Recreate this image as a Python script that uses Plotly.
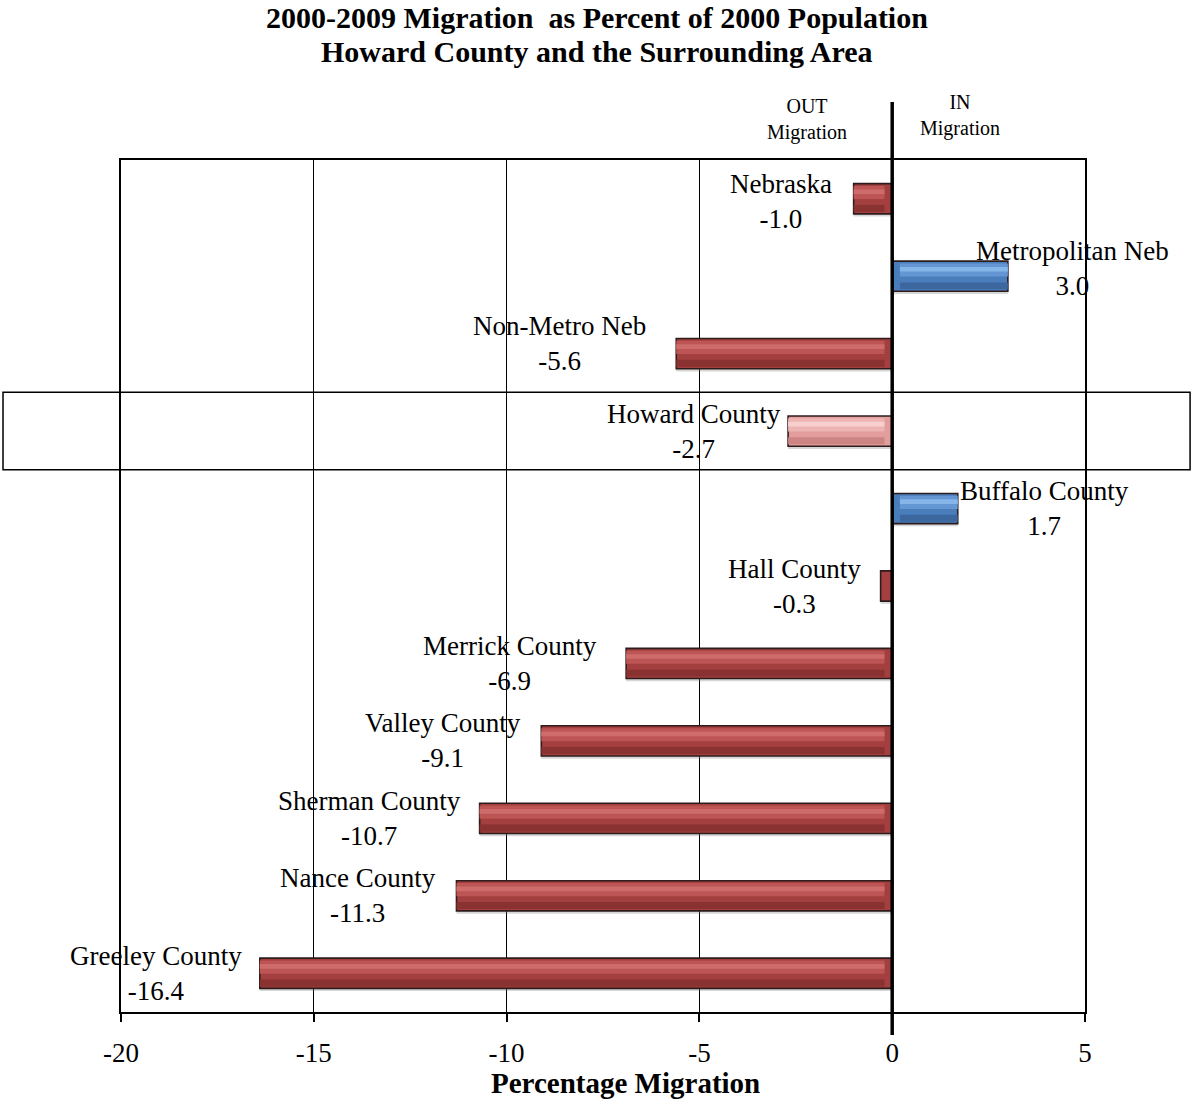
import plotly.graph_objects as go

# ---- data ----
categories = ["Nebraska", "Metropolitan Neb", "Non-Metro Neb", "Howard County",
              "Buffalo County", "Hall County", "Merrick County", "Valley County",
              "Sherman County", "Nance County", "Greeley County"]
values = [-1.0, 3.0, -5.6, -2.7, 1.7, -0.3, -6.9, -9.1, -10.7, -11.3, -16.4]
highlight_category = "Howard County"
x_ticks = [-20, -15, -10, -5, 0, 5]
title_lines = ["2000-2009 Migration  as Percent of 2000 Population",
               "Howard County and the Surrounding Area"]

# ---- styles ----
FONT = "Liberation Serif, Times New Roman, serif"
PALETTES = {
    "neg": ("#A33F3F", "#BC5554", "#CD6C6A", "#8A3131"),
    "pos": ("#4A7DBB", "#6396D2", "#86B5EA", "#3B679E"),
    "hl":  ("#E29D9C", "#ECB4B3", "#F6CFCE", "#CD8584"),
}

# per-label pixel offsets (style only)
label_dx = {"Nebraska": -20, "Metropolitan Neb": -34, "Non-Metro Neb": -28,
            "Howard County": -5, "Buffalo County": 0, "Hall County": -18,
            "Merrick County": -27, "Valley County": -18, "Sherman County": -17,
            "Nance County": -18, "Greeley County": -16}
label_dy = {"Nebraska": -3, "Metropolitan Neb": 8, "Non-Metro Neb": 10}


def palette(c, v):
    if c == highlight_category:
        return PALETTES["hl"]
    return PALETTES["pos"] if v > 0 else PALETTES["neg"]


pal = [palette(c, v) for c, v in zip(categories, values)]
main_cols = [p[0] for p in pal]
mid_cols = [p[1] for p in pal]
hi_cols = [p[2] for p in pal]
dark_cols = [p[3] for p in pal]

inset = 0.2
hi_base = [(inset if v > 0 else -inset) for v in values]
hi_len = [(v - b) if abs(v) > 2 * inset else 0 for v, b in zip(values, hi_base)]

fig = go.Figure()
# soft shadow
fig.add_trace(go.Bar(y=categories, x=values, orientation="h", width=0.40, offset=-0.17,
                     marker=dict(color="rgba(120,120,120,0.30)", line=dict(width=0)),
                     hoverinfo="skip", showlegend=False))
# main bars
fig.add_trace(go.Bar(y=categories, x=values, orientation="h", width=0.39,
                     marker=dict(color=main_cols, line=dict(color="#2E1C1C", width=1.6)),
                     showlegend=False))
# bevel / gloss layers
fig.add_trace(go.Bar(y=categories, x=hi_len, base=hi_base, orientation="h", width=0.17,
                     offset=-0.165,
                     marker=dict(color=mid_cols, line=dict(width=0)),
                     hoverinfo="skip", showlegend=False))
fig.add_trace(go.Bar(y=categories, x=hi_len, base=hi_base, orientation="h", width=0.06,
                     offset=-0.12,
                     marker=dict(color=hi_cols, line=dict(width=0)),
                     hoverinfo="skip", showlegend=False))
fig.add_trace(go.Bar(y=categories, x=hi_len, base=hi_base, orientation="h", width=0.09,
                     offset=0.08,
                     marker=dict(color=dark_cols, line=dict(width=0)),
                     hoverinfo="skip", showlegend=False))

# data labels
for c, v in zip(categories, values):
    fig.add_annotation(x=v, y=c, xref="x", yref="y", text=f"{c}<br>{v:.1f}",
                       showarrow=False, xanchor="right" if v < 0 else "left",
                       yanchor="middle", align="center",
                       xshift=label_dx.get(c, -18), yshift=label_dy.get(c, 0),
                       font=dict(family=FONT, size=27, color="black"))

# title (two lines placed separately for tight line spacing)
for line, ypos in zip(title_lines, [1.1678, 1.1268]):
    fig.add_annotation(x=0.4935, xref="paper", y=ypos, yref="paper", yanchor="middle",
                       text=f"<b>{line}</b>", showarrow=False,
                       font=dict(family=FONT, size=30, color="black"))

# OUT / IN annotations
fig.add_annotation(x=-2.2, y=1.047, xref="x", yref="paper", text="OUT<br>Migration",
                   showarrow=False, yanchor="middle",
                   font=dict(family=FONT, size=20, color="black"))
fig.add_annotation(x=1.75, y=1.052, xref="x", yref="paper", text="IN<br>Migration",
                   showarrow=False, yanchor="middle",
                   font=dict(family=FONT, size=20, color="black"))

# axis title
fig.add_annotation(x=0.523, y=-0.083, xref="paper", yref="paper", text="<b>Percentage Migration</b>",
                   showarrow=False, yanchor="middle",
                   font=dict(family=FONT, size=29, color="black"))

# zero line extending beyond the plot
fig.add_shape(type="line", xref="x", yref="paper", x0=0, x1=0, y0=-0.027, y1=1.068,
              line=dict(color="black", width=3.5), layer="above")

# highlight box around Howard County
hi_idx = categories.index(highlight_category)
fig.add_shape(type="rect", xref="paper", yref="y", x0=-0.1224, x1=1.109,
              y0=hi_idx - 0.5, y1=hi_idx + 0.5,
              line=dict(color="black", width=1.5), fillcolor="rgba(0,0,0,0)", layer="above")

fig.update_layout(
    width=1193, height=1116,
    margin=dict(l=121, r=108, t=160, b=104),
    paper_bgcolor="white", plot_bgcolor="white",
    barmode="overlay",
    xaxis=dict(range=[-20, 5], tickvals=x_ticks, ticktext=[str(t) for t in x_ticks],
               showgrid=True, gridcolor="black", gridwidth=1.3,
               zeroline=False, showline=True, linecolor="black", linewidth=1.5, mirror=True,
               ticks="outside", ticklen=8, tickcolor="black", tickwidth=1.5,
               ticklabelstandoff=8,
               tickfont=dict(family=FONT, size=27, color="black")),
    yaxis=dict(categoryorder="array", categoryarray=categories, range=[10.5, -0.5],
               showticklabels=False, showgrid=False, zeroline=False,
               showline=True, linecolor="black", linewidth=1.5, mirror=True, ticks=""),
    showlegend=False,
)

fig.write_html("out.html", config={"displayModeBar": False},
               post_script="document.body.style.margin='0';"
                           "document.body.style.overflow='hidden';")
